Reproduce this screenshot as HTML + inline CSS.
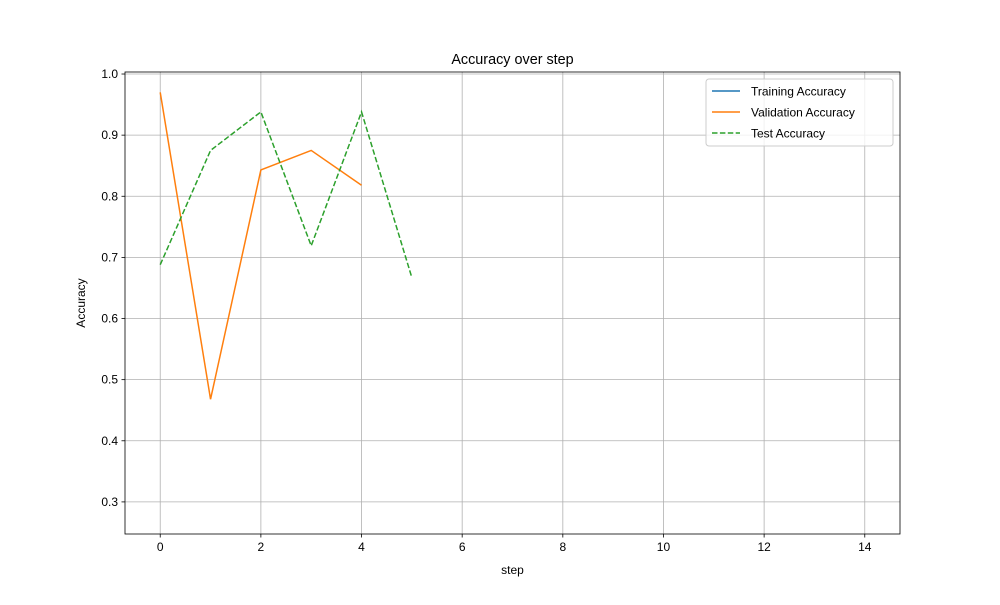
<!DOCTYPE html>
<html><head><meta charset="utf-8"><style>
body{margin:0;background:#fff}
svg{font-family:"Liberation Sans","DejaVu Sans",sans-serif}
</style></head><body>
<svg id="c" width="1000" height="600" xmlns="http://www.w3.org/2000/svg"></svg>
<script>
const steps=[0,1,2,3,4,5];
const trainingAcc=[];
const validationAcc=[0.97,0.468,0.843,0.875,0.818];
const testAcc=[0.688,0.875,0.938,0.719,0.938,0.667];
const xTicks=[0,2,4,6,8,10,12,14];
const yTicks=[0.3,0.4,0.5,0.6,0.7,0.8,0.9,1.0];
const L=125,R=900,T=72,B=534,xmin=-0.7,xmax=14.7,ymin=0.2475,ymax=1.0033;
const sx=v=>L+(v-xmin)/(xmax-xmin)*(R-L);
const sy=v=>B-(v-ymin)/(ymax-ymin)*(B-T);
const svg=document.getElementById('c');
const NS='http://www.w3.org/2000/svg';
function mk(t,a,txt){const e=document.createElementNS(NS,t);for(const k in a)e.setAttribute(k,a[k]);if(txt!==undefined)e.textContent=txt;svg.appendChild(e);return e;}
xTicks.forEach(v=>{const x=sx(v);
let g=mk('line',{x1:x,x2:x,y1:T,y2:B,stroke:'#b0b0b0','stroke-width':0.8});

mk('line',{x1:x,x2:x,y1:B,y2:B+3.5,stroke:'#000','stroke-width':0.8});
let t=mk('text',{x:x,y:B+17,'text-anchor':'middle','font-size':12},String(v));
});
yTicks.forEach(v=>{const y=sy(v);
let g=mk('line',{x1:L,x2:R,y1:y,y2:y,stroke:'#b0b0b0','stroke-width':0.8});

mk('line',{x1:L-3.5,x2:L,y1:y,y2:y,stroke:'#000','stroke-width':0.8});
let t=mk('text',{x:L-7,y:y+4,'text-anchor':'end','font-size':12},v.toFixed(1));
});
function line(arr,color,dash,name){if(!arr.length)return;
const p=mk('polyline',{points:arr.map((v,i)=>sx(steps[i])+','+sy(v)).join(' '),fill:'none',stroke:color,'stroke-width':1.5,'stroke-dasharray':dash||''});
}
line(trainingAcc,'#1f77b4','','training-line');
line(validationAcc,'#ff7f0e','','validation-line');
line(testAcc,'#2ca02c','5.5,2.4','test-line');
let fr=mk('rect',{x:L,y:T,width:R-L,height:B-T,fill:'none',stroke:'#000','stroke-width':0.8});

let ti=mk('text',{x:(L+R)/2,y:T-8,'text-anchor':'middle','font-size':14.4},'Accuracy over step');

let xl=mk('text',{x:(L+R)/2,y:574,'text-anchor':'middle','font-size':12},'step');

let yl=mk('text',{x:85,y:(T+B)/2,'text-anchor':'middle','font-size':12,transform:'rotate(-90 85 '+(T+B)/2+')'},'Accuracy');

let lg=mk('rect',{x:706,y:79,width:187,height:67,rx:3,fill:'#fff','fill-opacity':0.8,stroke:'#ccc'});

[['Training Accuracy','#1f77b4',''],['Validation Accuracy','#ff7f0e',''],['Test Accuracy','#2ca02c','5.5,2.4']].forEach((d,i)=>{
const y=91+i*21;
mk('line',{x1:712,x2:740,y1:y,y2:y,stroke:d[1],'stroke-width':1.5,'stroke-dasharray':d[2]});
let t=mk('text',{x:751,y:y+4.5,'font-size':12},d[0]);
});
</script>
</body></html>
